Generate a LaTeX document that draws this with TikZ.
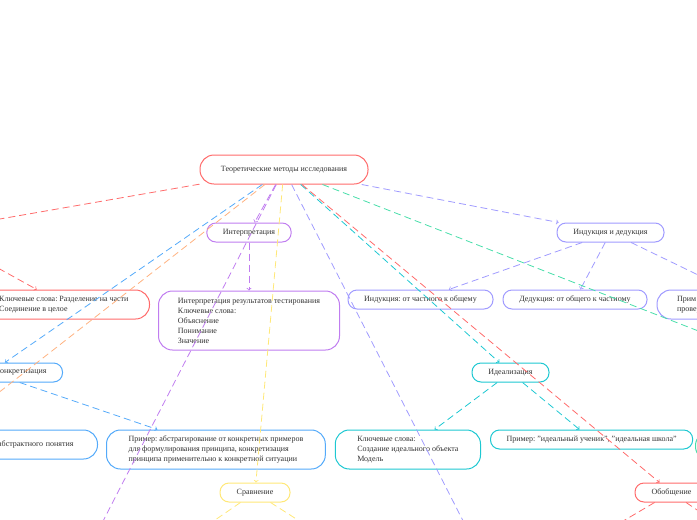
\documentclass[tikz,border=0pt]{standalone}
\usepackage{fontspec}
\setmainfont{Liberation Serif}
\usepackage{xcolor}
\usetikzlibrary{arrows,positioning,calc}
\definecolor{rootRed}{RGB}{255,107,107}
\definecolor{interpPurple}{RGB}{192,125,240}
\definecolor{induPeri}{RGB}{160,155,255}
\definecolor{abstrBlue}{RGB}{84,170,250}
\definecolor{abstrOrange}{RGB}{255,178,128}
\definecolor{compYellow}{RGB}{255,232,120}
\definecolor{idealCyan}{RGB}{30,200,210}
\definecolor{mintGreen}{RGB}{72,222,170}
\definecolor{textGray}{RGB}{51,51,51}
\frenchspacing

\begin{document}
\begin{tikzpicture}[
            x=1pt, y=-1pt,
            block/.style={rectangle, rounded corners=9pt, draw, line width=1pt, fill=white, minimum height=19pt, inner xsep=16pt, inner ysep=0pt, align=center, text=textGray, font=\fontsize{8}{10}\selectfont},
            big/.style={rounded corners=14pt},
            link/.style={->, line width=0.8pt, dash pattern=on 7pt off 4pt}
        ]
            \useasboundingbox (0,0) rectangle (697,520);

            \node[block, big, draw=rootRed, minimum width=168pt, minimum height=29pt] (root) at (284,169.5) {Теоретические методы исследования};

            \node[block, draw=interpPurple, minimum width=84pt] (interp) at (249,232.5) {Интерпретация};
            \node[block, big, draw=interpPurple, minimum width=181pt, minimum height=59pt, align=left, below=48pt of interp] (interpres) {Интерпретация результатов тестирования\\Ключевые слова:\\Объяснение\\Понимание\\Значение};

            \node[block, big, draw=rootRed, minimum height=29pt, align=left, inner xsep=21pt, anchor=east] (razdel) at (150,304.5) {Ключевые слова: Разделение на части\\Соединение в целое};

            \node[block, draw=abstrBlue, text width=112pt, align=right, anchor=east] (konkr) at (63,372.5) {конкретизация};
            \node[block, big, draw=abstrBlue, minimum height=29pt, text width=100pt, align=right, inner xsep=24pt, anchor=east] (ponyatie) at (98,444.5) {абстрактного понятия};
            \node[block, big, draw=abstrBlue, minimum height=39pt, align=left, inner xsep=22pt, anchor=north west] (primerabs) at ([xshift=8pt]ponyatie.north east) {Пример: абстрагирование от конкретных примеров\\для формулирования принципа, конкретизация\\принципа применительно к конкретной ситуации};

            \node[block, draw=compYellow, minimum width=70pt] (sravn) at (255,492.5) {Сравнение};

            \node[block, draw=induPeri, minimum width=107pt] (indded) at (610.5,232.5) {Индукция и дедукция};
            \node[block, draw=induPeri, minimum width=145pt] (induct) at (420.5,299.5) {Индукция: от частного к общему};
            \node[block, draw=induPeri, minimum width=144pt, right=9pt of induct] (deduct) {Дедукция: от общего к частному};
            \node[block, big, draw=induPeri, minimum height=29pt, text width=164pt, align=left, inner xsep=20pt, anchor=north west] (primerind) at ([xshift=9pt]deduct.north east) {Прим\\провер};

            \node[block, draw=idealCyan, minimum width=77pt] (ideal) at (510.5,372.5) {Идеализация};
            \node[block, big, draw=idealCyan, minimum height=39pt, align=left, inner xsep=22pt, anchor=north west] (sozdanie) at ([xshift=9pt]primerabs.north east) {Ключевые слова:\\Создание идеального объекта\\Модель};
            \node[block, draw=idealCyan, anchor=north west] (primerideal) at ([xshift=9pt]sozdanie.north east) {Пример: "идеальный ученик", "идеальная школа"};

            \node[block, big, draw=mintGreen, minimum width=120pt, minimum height=29pt, anchor=west] (mintbox) at (695,446) {};

            \node[block, draw=rootRed, minimum width=73pt] (obobsch) at (671.5,492.5) {Обобщение};

            \coordinate (analiz) at (-69,231);
            \coordinate (orangeend) at (-30,415);
            \coordinate (purpleend) at (83,560);
            \coordinate (periend) at (483,560);
            \coordinate (mintend) at (760,355);
            \coordinate (sravnleft) at (186,540);
            \coordinate (sravnright) at (329,540);
            \coordinate (obobleft) at (591,540);
            \coordinate (obobright) at (741,540);

            \draw[link, rootRed] (root) -- (analiz);
            \draw[link, rootRed] (analiz) -- (razdel);
            \draw[link, abstrBlue] (root) -- (konkr);
            \draw[link, abstrBlue] (konkr) -- (primerabs);
            \draw[link, abstrOrange] (root) -- (orangeend);
            \draw[link, interpPurple] (root) -- (interp);
            \draw[link, interpPurple] (interp) -- (interpres);
            \draw[link, interpPurple] (root) -- (purpleend);
            \draw[link, compYellow] (root) -- (sravn);
            \draw[link, compYellow] (sravn) -- (sravnleft);
            \draw[link, compYellow] (sravn) -- (sravnright);
            \draw[link, induPeri] (root) -- (periend);
            \draw[link, induPeri] (root) -- (indded);
            \draw[link, induPeri] (indded) -- (induct);
            \draw[link, induPeri] (indded) -- (deduct);
            \draw[link, induPeri] (indded) -- (primerind);
            \draw[link, idealCyan] (root) -- (ideal);
            \draw[link, idealCyan] (ideal) -- (sozdanie);
            \draw[link, idealCyan] (ideal) -- (primerideal);
            \draw[link, mintGreen] (root) -- (mintend);
            \draw[link, rootRed] (root) -- (obobsch);
            \draw[link, rootRed] (obobsch) -- (obobleft);
            \draw[link, rootRed] (obobsch) -- (obobright);
        \end{tikzpicture}
\end{document}
